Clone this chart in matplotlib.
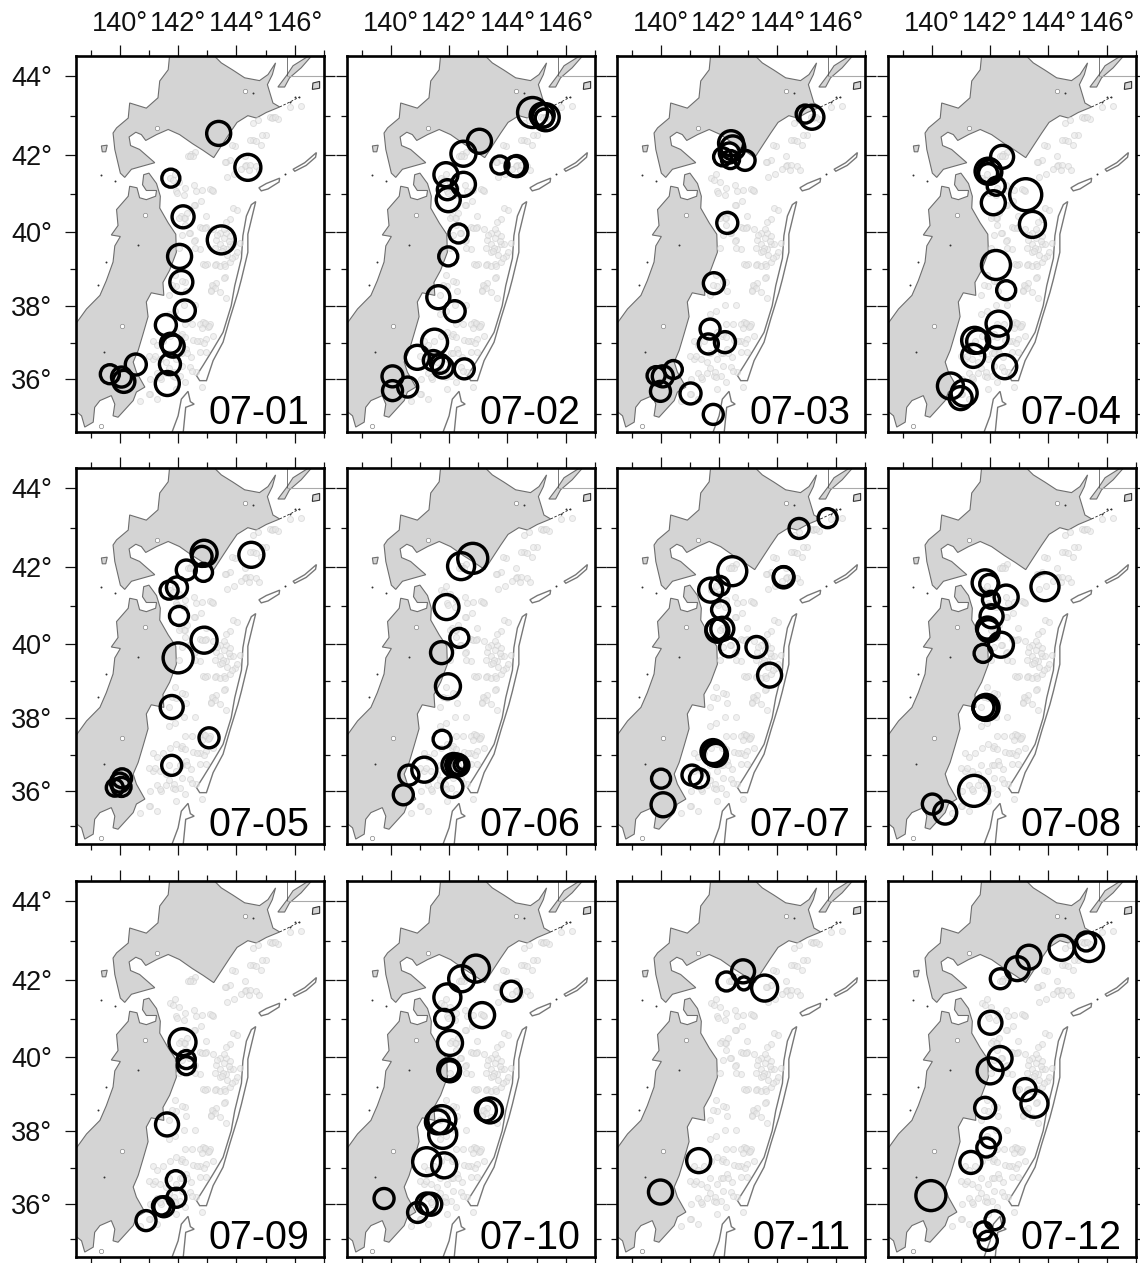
import numpy as np
import matplotlib
matplotlib.use("Agg")
import matplotlib.pyplot as plt

plt.rcParams["font.family"] = ["Liberation Sans", "DejaVu Sans"]

# coastlines (lon, lat)
hokkaido_lon = [143.20, 143.48, 143.88, 144.28, 144.79, 145.08, 145.34, 145.23, 145.06, 145.25, 145.48, 145.02,
                144.68, 144.39, 144.02, 143.77, 143.48, 143.22, 142.85, 142.49, 142.05, 141.66, 141.26, 140.89,
                140.74, 140.55, 140.32, 140.37, 140.68, 141.20, 140.63, 140.40, 140.17, 140.02, 139.83, 139.77,
                139.89, 140.29, 140.34, 140.91, 141.31, 141.37, 141.66, 141.71]
hokkaido_lat = [44.53, 44.33, 44.15, 43.96, 43.89, 44.04, 44.33, 44.04, 43.79, 43.33, 43.23, 43.09,
                42.95, 43.01, 42.84, 42.57, 42.24, 41.94, 42.13, 42.30, 42.53, 42.66, 42.53, 42.38,
                42.53, 42.59, 42.47, 42.25, 42.15, 41.81, 41.69, 41.64, 41.43, 41.54, 42.15, 42.57,
                42.70, 42.95, 43.33, 43.20, 43.46, 43.88, 44.16, 44.53]
honshu_lon = [138.40, 138.86, 139.32, 139.54, 139.77, 139.83, 140.02, 139.71, 139.94, 139.89, 140.29, 140.34,
              140.59, 140.68, 140.91, 141.23, 141.26, 140.91, 140.78, 140.82, 141.00, 141.26, 141.39, 141.37,
              141.66, 141.92, 141.94, 141.71, 141.48, 141.51, 141.08, 140.91, 140.97, 140.80, 140.63, 140.46,
              140.57, 140.86, 140.57, 140.46, 139.94, 139.77, 139.83, 139.71, 139.32, 139.14, 139.09, 138.80,
              138.69, 138.54, 138.40]
honshu_lat = [37.42, 37.93, 38.30, 38.70, 39.20, 39.63, 39.88, 39.92, 40.17, 40.59, 40.94, 41.20,
              41.16, 40.90, 40.85, 40.94, 41.09, 41.09, 41.24, 41.50, 41.54, 41.27, 40.94, 40.63,
              40.24, 39.94, 39.46, 38.98, 38.65, 38.30, 38.37, 38.12, 37.72, 37.25, 36.79, 36.47,
              36.19, 35.77, 35.63, 35.39, 34.92, 34.96, 35.29, 35.53, 35.39, 35.20, 34.78, 34.64,
              34.96, 35.06, 35.06]
kunashiri_lon = [145.42, 145.73, 145.94, 146.45, 146.56, 146.22, 145.82, 145.65]
kunashiri_lat = [43.73, 44.03, 44.26, 44.49, 44.49, 44.21, 43.96, 43.73]
shikotan_lon = [146.62, 146.85, 146.85, 146.60]
shikotan_lat = [43.83, 43.87, 43.70, 43.67]
okushiri_lon = [139.37, 139.57, 139.52, 139.40]
okushiri_lat = [42.24, 42.26, 42.09, 42.09]
habomai_lon = [145.48, 145.82, 146.16]
habomai_lat = [43.23, 43.35, 43.48]

# trench contours
japan_trench_lon = [144.66, 144.54, 144.39, 144.39, 144.17, 144.05, 143.77, 143.54, 143.20, 142.97, 142.74,
                    142.63, 142.85, 143.20, 143.54, 143.82, 143.94, 144.17, 144.22, 144.34, 144.51]
japan_trench_lat = [40.80, 40.42, 39.94, 39.46, 38.74, 38.38, 37.66, 37.02, 36.51, 35.95, 35.95,
                    36.09, 36.37, 36.83, 37.29, 38.02, 38.56, 39.30, 39.90, 40.42, 40.72]
izu_trench_lon = [142.34, 142.42, 142.55, 142.26, 142.17, 141.77, 142.00, 142.11]
izu_trench_lat = [35.65, 35.36, 35.29, 35.20, 34.45, 34.45, 34.96, 35.43]
kuril_a_lon = [144.77, 145.02, 145.48, 145.46, 145.08, 144.85]
kuril_a_lat = [41.16, 41.27, 41.41, 41.31, 41.13, 41.08]
kuril_b_lon = [145.94, 146.34, 146.74, 146.71, 146.39, 146.00]
kuril_b_lat = [41.64, 41.81, 42.07, 41.95, 41.74, 41.59]

# small islands and lakes
dots_lon = [140.63, 139.54, 139.24, 139.37, 139.83, 139.46, 145.65, 145.99, 146.16, 145.82, 144.55]
dots_lat = [39.66, 39.21, 38.59, 41.50, 41.33, 36.75, 41.51, 43.47, 43.48, 43.35, 43.58]
lakes_lon = [140.08, 140.88, 141.29, 144.28, 139.37]
lakes_lat = [37.47, 40.44, 42.69, 43.62, 34.67]

# background seismicity, same in every panel
bg_lon = [142.45, 142.34, 142.57, 142.51, 142.40, 143.77, 143.94, 143.65, 144.57, 144.85, 145.02, 144.68,
          145.25, 145.42, 145.14, 144.74, 144.57, 146.22, 145.82, 144.34, 144.28, 144.45, 144.17, 144.68,
          141.71, 141.83, 141.94, 142.23, 142.63, 143.08, 143.20, 142.80, 142.57, 142.97, 142.11, 142.23,
          142.31, 142.74, 142.97, 143.20, 143.42, 143.65, 143.79, 143.56, 143.31, 143.45, 143.88, 144.02,
          143.77, 143.65, 142.40, 142.57, 142.85, 143.00, 143.31, 143.56, 143.77, 143.94, 144.02, 143.42,
          143.65, 144.11, 143.77, 143.54, 143.88, 142.74, 142.23, 141.94, 142.28, 143.20, 143.31, 143.14,
          143.42, 143.60, 143.65, 142.91, 143.08, 143.03, 142.85, 142.74, 142.51, 142.74, 142.97, 143.20,
          141.14, 141.26, 141.48, 141.71, 141.94, 142.11, 142.28, 142.05, 141.94, 141.14, 141.37, 141.60,
          142.40, 142.63, 141.26, 141.43, 141.03, 141.26, 141.83, 142.05, 141.60, 141.03, 142.45, 142.74,
          142.97, 141.94, 140.68,
          141.91, 142.02, 141.96, 142.19, 142.53, 142.82, 143.16, 142.53, 142.19, 142.02, 142.25, 142.36,
          142.82, 142.93, 142.13, 142.53, 142.59, 142.02, 143.33, 143.56, 143.73, 143.28, 143.50, 143.68,
          143.85, 143.28, 143.45, 143.62, 142.93, 143.16, 143.28, 143.11, 143.56, 141.91, 142.13, 141.79,
          141.68, 142.19, 142.59, 141.91, 141.68, 142.25, 142.48, 142.93, 143.05, 142.82, 142.13, 142.25,
          142.65, 142.88, 140.99, 141.22, 141.68, 142.13, 142.31, 141.39, 141.68, 141.85, 142.13, 141.91,
          142.48, 140.99, 142.82, 142.25, 143.68, 144.42, 144.76, 144.30, 144.47, 144.87, 145.22, 145.33,
          143.85, 143.62, 143.90]
bg_lat = [42.04, 41.99, 42.08, 41.97, 41.97, 41.87, 42.24, 41.82, 42.40, 42.27, 42.53, 42.36,
          42.97, 42.92, 42.97, 42.89, 42.82, 43.26, 43.23, 41.76, 41.72, 41.74, 41.64, 41.72,
          41.41, 41.37, 41.07, 41.16, 41.07, 41.13, 41.07, 40.81, 40.72, 40.42, 40.42, 40.37,
          40.50, 40.12, 40.12, 40.07, 39.98, 39.98, 39.88, 40.07, 39.79, 39.67, 40.63, 40.57,
          40.33, 40.26, 39.96, 39.79, 39.14, 39.14, 39.14, 39.14, 39.20, 39.37, 39.47, 39.46,
          39.55, 39.72, 39.67, 39.58, 39.67, 39.55, 38.65, 38.56, 38.42, 38.56, 38.63, 38.45,
          38.40, 38.79, 38.24, 37.52, 37.52, 37.43, 37.58, 37.52, 37.09, 37.06, 37.11, 37.18,
          37.06, 36.93, 37.06, 37.20, 37.29, 37.20, 36.83, 36.72, 36.54, 36.56, 36.54, 36.47,
          36.32, 36.19, 36.17, 36.00, 35.58, 35.44, 36.09, 36.09, 36.17, 36.00, 36.60, 36.75,
          36.75, 35.72, 35.39,
          41.53, 41.32, 41.02, 40.97, 41.23, 41.10, 41.10, 40.71, 40.37, 40.37, 40.19, 39.97,
          40.10, 40.10, 39.93, 39.75, 39.58, 39.58, 39.93, 39.84, 39.75, 39.58, 39.49, 39.40,
          39.31, 39.13, 39.09, 39.09, 39.13, 38.59, 38.50, 38.41, 38.78, 38.86, 38.68, 38.59,
          38.32, 38.05, 38.05, 37.87, 37.78, 37.51, 37.51, 37.55, 37.46, 37.42, 37.24, 37.15,
          37.05, 37.01, 36.64, 36.64, 36.73, 36.73, 36.73, 36.04, 36.31, 36.18, 36.36, 36.04,
          36.22, 35.57, 35.76, 35.90, 41.44, 41.63, 41.63, 41.97, 42.39, 42.52, 42.94, 42.98,
          42.27, 41.84, 41.53]

# events for each day: lon, lat, amplitude
days = ["07-01", "07-02", "07-03", "07-04", "07-05", "07-06",
        "07-07", "07-08", "07-09", "07-10", "07-11", "07-12"]

lon_01 = [143.39, 144.39, 141.75, 142.17, 143.48, 142.05, 142.11, 142.23, 141.58, 141.74, 141.83, 141.72, 141.63,
          140.55, 139.66, 140.06, 140.14]
lat_01 = [42.56, 41.69, 41.41, 40.40, 39.79, 39.35, 38.66, 37.89, 37.49, 36.99, 36.91, 36.41, 35.87,
          36.40, 36.13, 36.05, 35.93]
amp_01 = [24, 26, 18, 22, 28, 24, 23, 21, 21, 20, 22, 21, 24, 21, 19, 20, 22]

lon_02 = [144.86, 145.19, 145.31, 145.26, 143.04, 142.49, 141.89, 142.49, 141.94, 141.97, 142.32, 141.97, 141.63,
          142.19, 141.50, 140.91, 141.46, 141.69, 141.78, 142.52, 140.06, 140.06, 140.58, 143.74, 144.26, 144.32]
lat_02 = [43.09, 43.02, 42.97, 42.95, 42.36, 42.04, 41.50, 41.25, 41.11, 40.85, 39.96, 39.35, 38.25,
          37.87, 37.02, 36.60, 36.51, 36.42, 36.32, 36.28, 36.07, 35.67, 35.77, 41.75, 41.72, 41.72]
amp_02 = [30, 24, 27, 18, 24, 25, 24, 24, 20, 24, 19, 19, 23, 21, 26, 24, 20, 19, 21, 20, 21, 20, 20, 18, 20, 21]

lon_03 = [144.95, 145.18, 142.41, 142.47, 142.35, 142.12, 142.39, 142.89, 142.28, 141.82, 141.69, 141.63, 142.20,
          140.43, 139.84, 140.07, 139.99, 141.02, 141.80]
lat_03 = [43.05, 42.97, 42.31, 42.19, 42.06, 41.96, 41.89, 41.87, 40.24, 38.63, 37.38, 36.97, 37.02,
          36.26, 36.09, 36.07, 35.65, 35.59, 35.00]
amp_03 = [18, 24, 25, 24, 20, 18, 18, 20, 21, 21, 20, 20, 21, 18, 18, 21, 20, 21, 20]

lon_04 = [142.41, 141.93, 141.99, 141.93, 142.21, 142.11, 143.22, 143.45, 142.20, 142.55, 142.29, 142.24, 141.47,
          141.59, 141.42, 142.50, 140.64, 141.11, 140.99]
lat_04 = [41.96, 41.59, 41.57, 41.54, 41.20, 40.77, 40.98, 40.20, 39.12, 38.44, 37.53, 37.15, 37.07,
          37.04, 36.64, 36.34, 35.80, 35.60, 35.46]
amp_04 = [23, 26, 24, 19, 18, 24, 32, 26, 29, 19, 25, 22, 26, 23, 23, 24, 26, 26, 23]

lon_05 = [142.89, 142.82, 142.28, 142.87, 141.96, 141.69, 142.03, 142.89, 142.00, 141.78, 143.06, 141.78,
          140.08, 140.00, 139.83, 140.06, 144.51]
lat_05 = [42.36, 42.28, 41.93, 41.87, 41.48, 41.41, 40.74, 40.10, 39.63, 38.31, 37.47, 36.71,
          36.35, 36.23, 36.09, 36.11, 42.32]
amp_05 = [26, 20, 20, 18, 21, 18, 19, 26, 30, 23, 20, 20, 19, 19, 17, 19, 25]

lon_06 = [142.81, 142.41, 141.91, 142.35, 141.74, 141.96, 141.76, 141.15, 140.62, 140.43, 142.15, 142.26, 142.32,
          142.33, 142.41, 142.45, 142.11]
lat_06 = [42.23, 42.03, 40.97, 40.16, 39.77, 38.87, 37.43, 36.59, 36.44, 35.89, 36.72, 36.72, 36.71,
          36.70, 36.72, 36.74, 36.11]
amp_06 = [30, 27, 25, 19, 22, 25, 18, 25, 20, 20, 23, 22, 21, 18, 14, 10, 21]

lon_07 = [144.74, 145.72, 142.45, 142.02, 141.71, 142.05, 142.11, 141.91, 141.94, 142.34, 143.28, 143.73, 144.21,
          144.21, 141.82, 141.89, 141.79, 141.07, 141.31, 140.01, 140.08]
lat_07 = [42.99, 43.25, 41.90, 41.52, 41.41, 40.90, 40.40, 40.38, 40.35, 39.91, 39.92, 39.17, 41.76,
          41.74, 37.04, 37.00, 37.09, 36.44, 36.35, 36.34, 35.61]
amp_07 = [20, 19, 29, 19, 24, 18, 23, 21, 23, 19, 21, 24, 20, 21, 24, 23, 24, 20, 19, 19, 24]

lon_08 = [141.83, 141.97, 142.55, 142.03, 142.05, 141.91, 141.94, 142.37, 141.76, 141.86, 141.77, 141.83,
          143.88, 141.45, 140.02, 140.46]
lat_08 = [41.60, 41.57, 41.23, 41.16, 40.73, 40.42, 40.35, 39.98, 39.75, 38.30, 38.30, 38.28,
          41.50, 36.00, 35.63, 35.39]
amp_08 = [26, 19, 24, 17, 23, 22, 22, 25, 18, 26, 21, 24, 28, 31, 20, 23]

lon_09 = [142.15, 142.28, 142.28, 141.62, 141.92, 141.94, 141.43, 141.51, 140.90]
lat_09 = [40.39, 39.93, 39.77, 38.19, 36.66, 36.17, 35.94, 35.92, 35.53]
amp_09 = [27, 18, 18, 23, 19, 19, 18, 20, 20]

lon_10 = [142.92, 142.43, 141.94, 141.83, 142.03, 142.01, 142.03, 141.97, 144.13, 143.13, 143.40, 143.26, 141.75,
          141.60, 141.78, 141.23, 141.83, 139.77, 141.37, 141.23, 140.92]
lat_10 = [42.30, 42.04, 41.56, 41.00, 40.37, 39.65, 39.62, 39.67, 41.72, 41.10, 38.57, 38.57, 38.32,
          38.26, 37.92, 37.17, 37.07, 36.15, 35.99, 36.01, 35.76]
amp_10 = [27, 26, 27, 19, 25, 22, 21, 21, 20, 25, 25, 21, 28, 24, 28, 28, 25, 20, 22, 21, 20]

lon_11 = [142.82, 142.25, 142.85, 143.56, 141.30, 139.99]
lat_11 = [42.23, 41.97, 41.92, 41.80, 37.20, 36.33]
amp_11 = [23, 19, 13, 26, 24, 24]

lon_12 = [144.45, 145.39, 145.29, 143.33, 142.93, 142.35, 142.01, 142.34, 142.00, 143.20, 143.52, 141.83, 142.01,
          141.87, 141.34, 139.97, 142.15, 141.77, 141.92]
lat_12 = [42.83, 42.85, 42.99, 42.59, 42.30, 42.04, 40.90, 39.96, 39.63, 39.13, 38.75, 38.64, 37.83,
          37.56, 37.15, 36.23, 35.54, 35.24, 34.96]
amp_12 = [25, 29, 19, 24, 24, 20, 23, 24, 26, 22, 27, 21, 20, 19, 22, 30, 19, 18, 19]

event_lons = [lon_01, lon_02, lon_03, lon_04, lon_05, lon_06, lon_07, lon_08, lon_09, lon_10, lon_11, lon_12]
event_lats = [lat_01, lat_02, lat_03, lat_04, lat_05, lat_06, lat_07, lat_08, lat_09, lat_10, lat_11, lat_12]
event_amps = [amp_01, amp_02, amp_03, amp_04, amp_05, amp_06, amp_07, amp_08, amp_09, amp_10, amp_11, amp_12]

W, H = 1140, 1263
DPI = 100
lefts = [76, 347, 617, 888]
tops = [56, 468, 881]
PW, PH = 248, 376
PX2PT = 72 / DPI


def merc(lat):
    lat = np.radians(np.clip(lat, -85, 85))
    return np.log(np.tan(np.pi / 4 + lat / 2))


def merc_inv(y):
    return np.degrees(2 * np.arctan(np.exp(y)) - np.pi / 2)


def draw_base(ax):
    land = "#d4d4d4"
    coast = "#6e6e6e"
    for xs, ys in [(hokkaido_lon, hokkaido_lat), (honshu_lon, honshu_lat), (kunashiri_lon, kunashiri_lat),
                   (okushiri_lon, okushiri_lat)]:
        ax.fill(xs, ys, facecolor=land, edgecolor=coast, linewidth=0.8, zorder=1)
    ax.fill(shikotan_lon, shikotan_lat, facecolor=land, edgecolor="#333333", linewidth=0.8, zorder=1)
    for xs, ys in [(japan_trench_lon, japan_trench_lat), (izu_trench_lon, izu_trench_lat),
                   (kuril_a_lon, kuril_a_lat), (kuril_b_lon, kuril_b_lat)]:
        ax.fill(xs, ys, facecolor="white", edgecolor="#777777", linewidth=1.0, zorder=1)
    ax.plot(habomai_lon, habomai_lat, color="#222222", linewidth=0.6, linestyle=(0, (3, 2)), zorder=1)
    # map tile edges in the top right corner
    ax.plot([145.73, 145.73], [44.0, 44.5], color="#444444", linewidth=0.5, zorder=1)
    ax.plot([145.73, 147.0], [44.0, 44.0], color="#aaaaaa", linewidth=0.8, zorder=1)
    ax.scatter(dots_lon, dots_lat, s=2, color="#333333", linewidths=0, zorder=2)
    ax.scatter(lakes_lon, lakes_lat, s=10, facecolor="white", edgecolor="#888888", linewidths=0.5, zorder=2)
    ax.scatter(bg_lon, bg_lat, s=(6 * PX2PT) ** 2, facecolor="#e8e8e8", edgecolor="#cfcfcf", alpha=0.6,
               linewidths=0.7, zorder=2)


fig = plt.figure(figsize=(W / DPI, H / DPI), dpi=DPI)

for n, day in enumerate(days):
    row, col = n // 4, n % 4
    ax = fig.add_axes([lefts[col] / W, 1 - (tops[row] + PH) / H, PW / W, PH / H])
    ax.set_yscale("function", functions=(merc, merc_inv))
    draw_base(ax)

    sizes = (np.array(event_amps[n]) * PX2PT) ** 2
    ax.scatter(event_lons[n], event_lats[n], s=sizes, facecolor="none", edgecolor="black",
               linewidths=3.4 * PX2PT, zorder=5)

    ax.set_xlim(138.5, 147.0)
    ax.set_ylim(34.5, 44.5)
    ax.set_xticks([140, 142, 144, 146])
    ax.set_xticks(np.arange(139, 148, 2), minor=True)
    ax.set_yticks([36, 38, 40, 42, 44])
    ax.set_yticks([35, 37, 39, 41, 43], minor=True)
    ax.set_xticklabels([f"{v}°" for v in [140, 142, 144, 146]])
    ax.set_yticklabels([f"{v}°" for v in [36, 38, 40, 42, 44]])
    ax.tick_params(axis="both", which="major", length=8, width=0.9, direction="out", top=True, bottom=True,
                   left=True, right=True, labelsize=19.5, labeltop=(row == 0), labelbottom=False,
                   labelleft=(col == 0), labelright=False, colors="#111111")
    ax.tick_params(axis="x", which="major", pad=6)
    ax.tick_params(axis="y", which="major", pad=9)
    ax.tick_params(axis="both", which="minor", length=4, width=0.9, direction="out", top=True, bottom=True,
                   left=True, right=True, labelleft=False, labelbottom=False, colors="#111111")
    ax.yaxis.set_minor_formatter(plt.NullFormatter())
    for side in ax.spines.values():
        side.set_linewidth(1.9)

    ax.text(0.942, 0.022, day, transform=ax.transAxes, ha="right", va="baseline", fontsize=28.5, color="black",
            zorder=6)

fig.savefig("out.png", dpi=DPI)
